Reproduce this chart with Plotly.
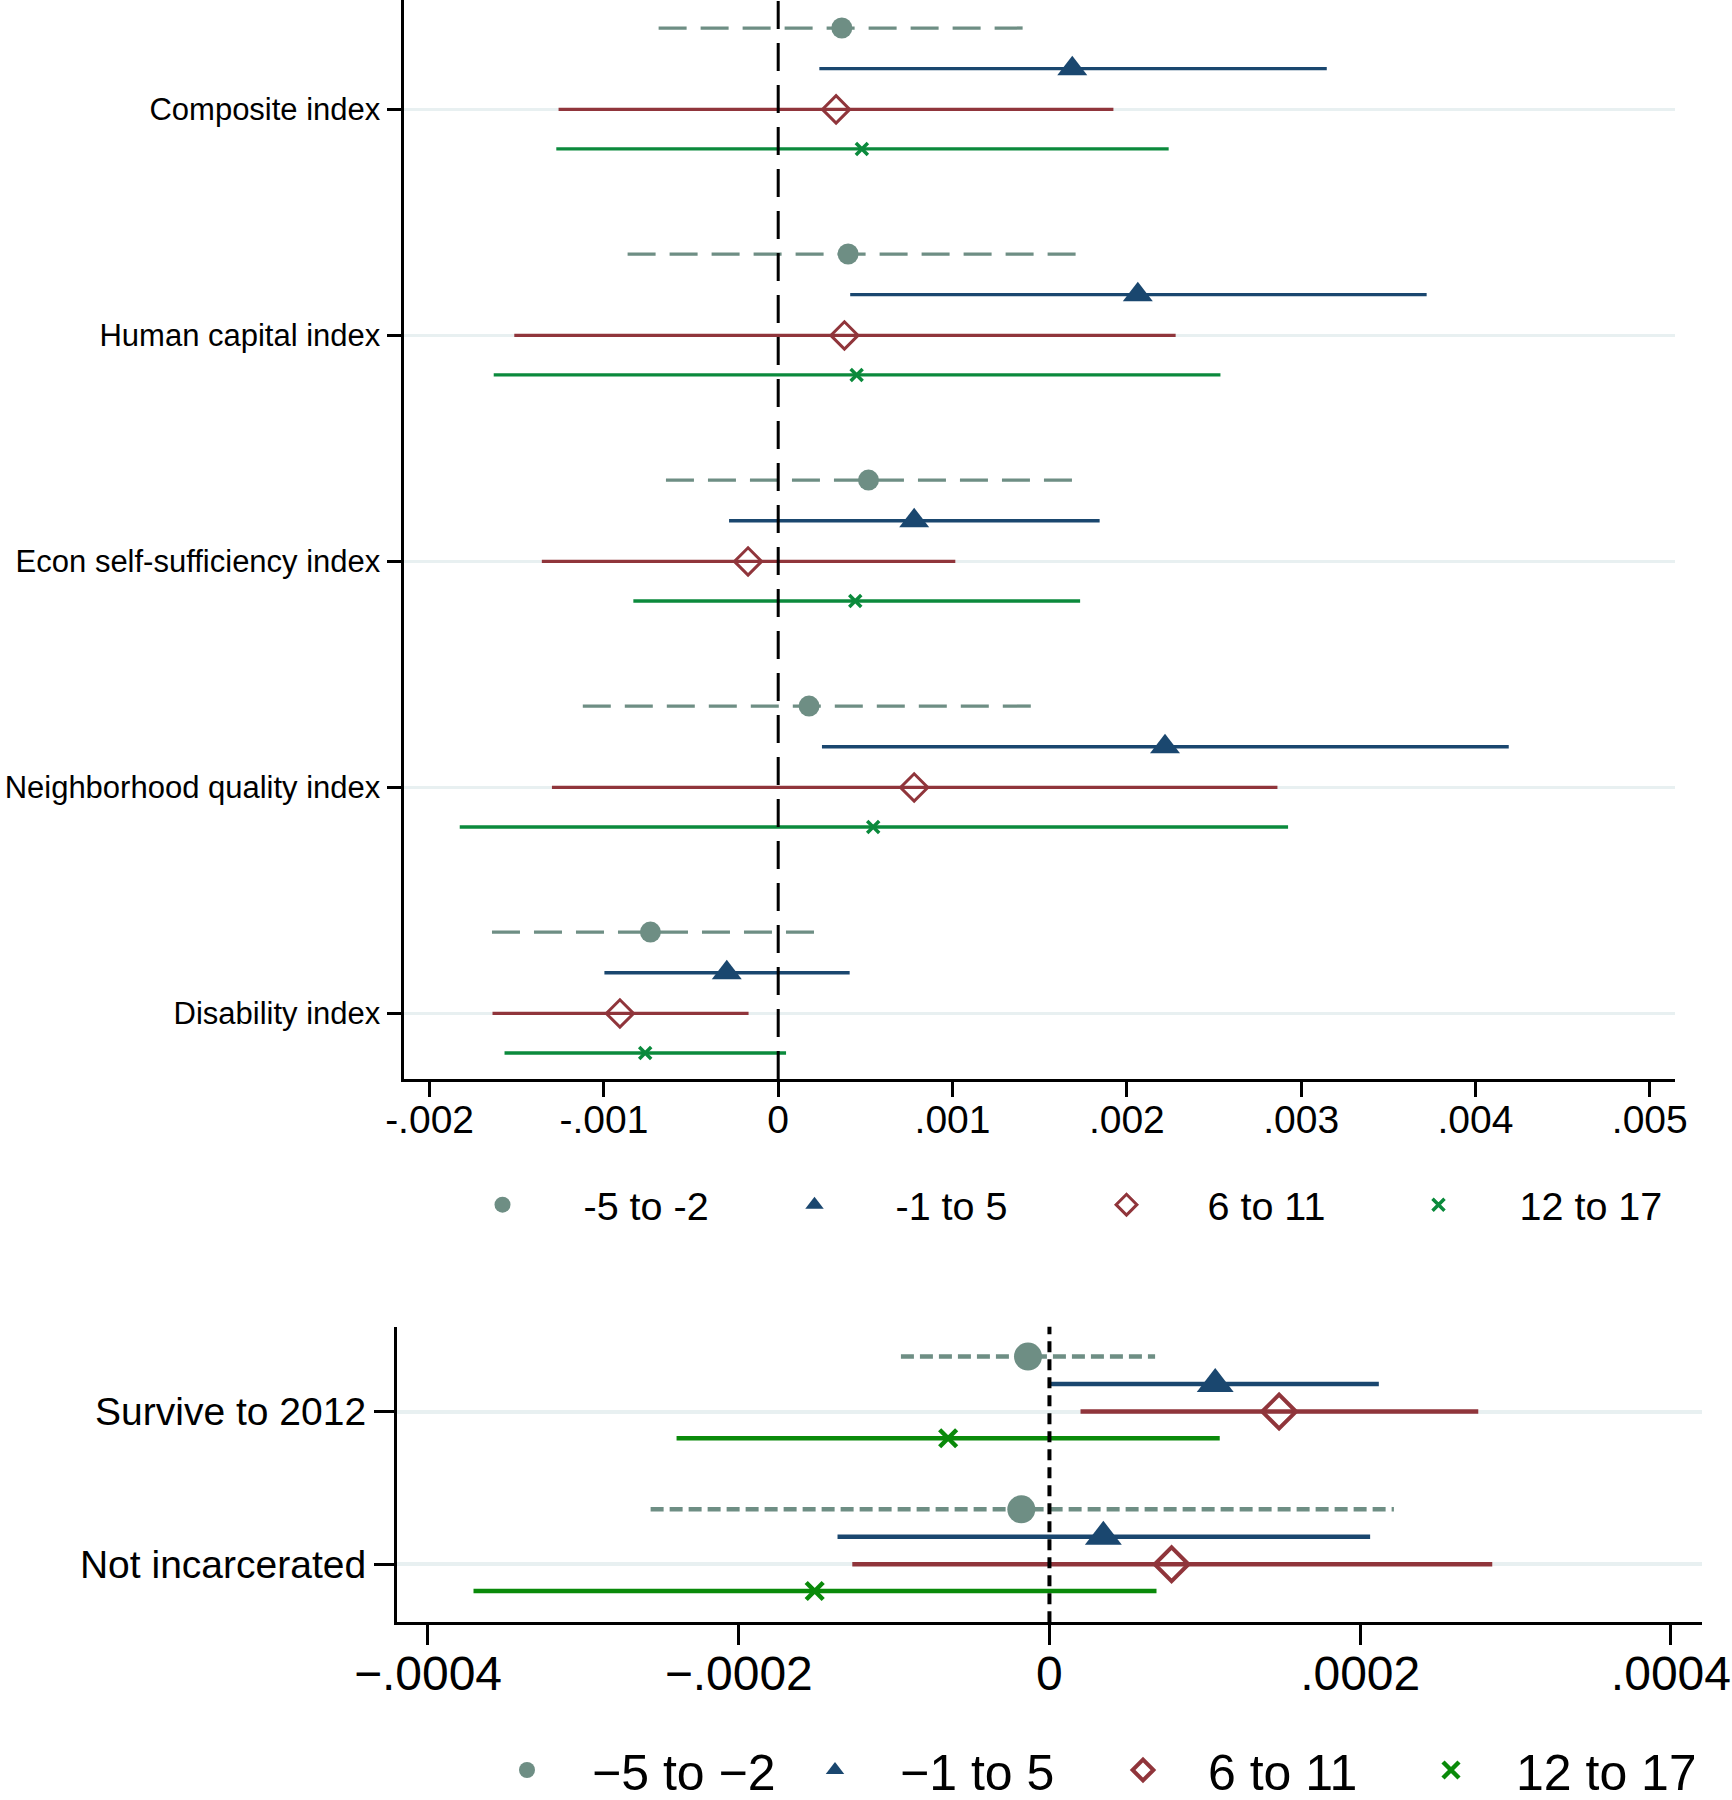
import plotly.graph_objects as go

# ---------------- data: top panel ----------------
top_categories = ["Composite index", "Human capital index", "Econ self-sufficiency index",
                  "Neighborhood quality index", "Disability index"]
top_series = ["-5 to -2", "-1 to 5", "6 to 11", "12 to 17"]

top_m5_est = [0.000365, 0.000401, 0.000518, 0.000177, -0.000733]
top_m5_lo = [-0.000686, -0.000864, -0.000644, -0.001121, -0.001642]
top_m5_hi = [0.001415, 0.001742, 0.001725, 0.001476, 0.000228]

top_m1_est = [0.001687, 0.002063, 0.000780, 0.002219, -0.000295]
top_m1_lo = [0.000236, 0.000413, -0.000282, 0.000251, -0.000997]
top_m1_hi = [0.003147, 0.003720, 0.001844, 0.004191, 0.000410]

top_6_est = [0.000332, 0.000380, -0.000173, 0.000780, -0.000908]
top_6_lo = [-0.001260, -0.001514, -0.001356, -0.001298, -0.001639]
top_6_hi = [0.001923, 0.002280, 0.001016, 0.002864, -0.000170]

top_12_est = [0.000480, 0.000450, 0.000442, 0.000545, -0.000763]
top_12_lo = [-0.001273, -0.001632, -0.000831, -0.001827, -0.001570]
top_12_hi = [0.002240, 0.002537, 0.001732, 0.002925, 0.000045]

top_tickvals = [-0.002, -0.001, 0, 0.001, 0.002, 0.003, 0.004, 0.005]
top_ticktext = ["-.002", "-.001", "0", ".001", ".002", ".003", ".004", ".005"]

# ---------------- data: bottom panel ----------------
bot_categories = ["Survive to 2012", "Not incarcerated"]
bot_series = ["\u22125 to \u22122", "\u22121 to 5", "6 to 11", "12 to 17"]

bot_m5_est = [-0.0000138, -0.0000181]
bot_m5_lo = [-0.0000956, -0.0002567]
bot_m5_hi = [0.0000680, 0.0002217]

bot_m1_est = [0.0001067, 0.0000347]
bot_m1_lo = [0.0000005, -0.0001364]
bot_m1_hi = [0.0002120, 0.0002064]

bot_6_est = [0.0001478, 0.0000786]
bot_6_lo = [0.0000200, -0.0001269]
bot_6_hi = [0.0002760, 0.0002850]

bot_12_est = [-0.0000652, -0.0001511]
bot_12_lo = [-0.0002400, -0.0003707]
bot_12_hi = [0.0001096, 0.0000689]

bot_tickvals = [-0.0004, -0.0002, 0, 0.0002, 0.0004]
bot_ticktext = ["\u2212.0004", "\u2212.0002", "0", ".0002", ".0004"]

# ---------------- styles ----------------
TEAL = "#6e8e84"
NAVY = "#1a476f"
MAROON = "#90353b"
GREEN_TOP = "#0b8a3c"
GREEN_BOT = "#0a8a0a"
GRID = "#e8f0f1"
FONT = "Liberation Sans, Arial, Helvetica, sans-serif"

offsets = [-0.36, -0.18, 0.0, 0.175]

top_style = [
    dict(color=TEAL, dash="28px,14px", symbol="circle", size=21, lw=0),
    dict(color=NAVY, dash="solid", symbol="triangle-up", size=26, lw=0),
    dict(color=MAROON, dash="solid", symbol="diamond-open", size=21, lw=3),
    dict(color=GREEN_TOP, dash="solid", symbol="x-thin", size=12, lw=3.5),
]
bot_style = [
    dict(color=TEAL, dash="13px,6px", symbol="circle", size=28, lw=0),
    dict(color=NAVY, dash="solid", symbol="triangle-up", size=32, lw=0),
    dict(color=MAROON, dash="solid", symbol="diamond-open", size=26, lw=4),
    dict(color=GREEN_BOT, dash="solid", symbol="x-thin", size=17, lw=4.5),
]

fig = go.Figure()


def add_panel(est_list, lo_list, hi_list, names, styles, xa, ya, legend, line_w):
    n_cat = len(est_list[0])
    for k, (est, lo, hi, name, st) in enumerate(zip(est_list, lo_list, hi_list, names, styles)):
        pos = [i + 1 + offsets[k] for i in range(n_cat)]
        xs, ys = [], []
        for i in range(n_cat):
            xs += [lo[i], hi[i], None]
            ys += [pos[i], pos[i], None]
        fig.add_trace(go.Scatter(
            x=xs, y=ys, mode="lines", xaxis=xa, yaxis=ya, showlegend=False,
            line=dict(color=st["color"], width=line_w, dash=st["dash"]),
            hoverinfo="skip"))
        fig.add_trace(go.Scatter(
            x=est, y=pos, mode="markers", xaxis=xa, yaxis=ya, name=name,
            legend=legend,
            marker=dict(symbol=st["symbol"], size=st["size"], color=st["color"],
                        line=dict(color=st["color"], width=st["lw"]))))


add_panel([top_m5_est, top_m1_est, top_6_est, top_12_est],
          [top_m5_lo, top_m1_lo, top_6_lo, top_12_lo],
          [top_m5_hi, top_m1_hi, top_6_hi, top_12_hi],
          top_series, top_style, "x", "y", "legend", 3.3)
add_panel([bot_m5_est, bot_m1_est, bot_6_est, bot_12_est],
          [bot_m5_lo, bot_m1_lo, bot_6_lo, bot_12_lo],
          [bot_m5_hi, bot_m1_hi, bot_6_hi, bot_12_hi],
          bot_series, bot_style, "x2", "y2", "legend2", 4.5)

# zero reference lines
fig.add_shape(type="line", xref="x", yref="y domain", x0=0, x1=0, y0=0, y1=1,
              line=dict(color="black", width=3, dash="28px,14px"), layer="above")
fig.add_shape(type="line", xref="x2", yref="y2 domain", x0=0, x1=0, y0=0, y1=1,
              line=dict(color="black", width=4, dash="11px,7px"), layer="above")

W, H = 1732, 1800
axis_common = dict(showline=True, linecolor="black", ticks="outside", tickcolor="black",
                   zeroline=False, automargin=False)

fig.update_layout(
    width=W, height=H,
    margin=dict(l=0, r=0, t=0, b=0, autoexpand=False),
    paper_bgcolor="white", plot_bgcolor="white",
    font=dict(family=FONT, color="black"),
    xaxis=dict(domain=[404.3 / W, 1674.7 / W], anchor="y", range=[-0.002145, 0.005143],
               tickvals=top_tickvals, ticktext=top_ticktext, tickfont=dict(size=39),
               ticklen=15, tickwidth=2.5, linewidth=2.5, showgrid=False,
               ticklabelstandoff=-11, **axis_common),
    yaxis=dict(domain=[1 - 1079 / H, 1.0], anchor="x", range=[5.29, 0.516],
               tickvals=list(range(1, len(top_categories) + 1)), ticktext=top_categories,
               tickfont=dict(size=31), ticklen=15, tickwidth=2.5, linewidth=2.5,
               showgrid=True, gridcolor=GRID, gridwidth=3, **axis_common),
    xaxis2=dict(domain=[396.9 / W, 1702 / W], anchor="y2", range=[-0.00042, 0.00042],
                tickvals=bot_tickvals, ticktext=bot_ticktext, tickfont=dict(size=48),
                ticklen=20, tickwidth=3, linewidth=3, showgrid=False,
                ticklabelstandoff=-13, **axis_common),
    yaxis2=dict(domain=[1 - 1622.3 / H, 1 - 1326.8 / H], anchor="x2", range=[2.38, 0.445],
                tickvals=list(range(1, len(bot_categories) + 1)), ticktext=bot_categories,
                tickfont=dict(size=39), ticklen=20, tickwidth=3, linewidth=3,
                showgrid=True, gridcolor=GRID, gridwidth=4, **axis_common),
    legend=dict(orientation="h", x=421.5 / W, y=1 - 1205 / H, xanchor="left", yanchor="middle",
                font=dict(size=39.5), itemwidth=152, entrywidth=145, entrywidthmode="pixels",
                bgcolor="rgba(0,0,0,0)", traceorder="normal"),
    legend2=dict(orientation="h", x=462 / W, y=1 - 1770 / H, xanchor="left", yanchor="middle",
                 font=dict(size=50), itemwidth=120, entrywidth=173, entrywidthmode="pixels",
                 bgcolor="rgba(0,0,0,0)", traceorder="normal"),
    showlegend=True,
)

fig.write_html("out.html", config={"displayModeBar": False},
               post_script="document.body.style.margin='0px';")
